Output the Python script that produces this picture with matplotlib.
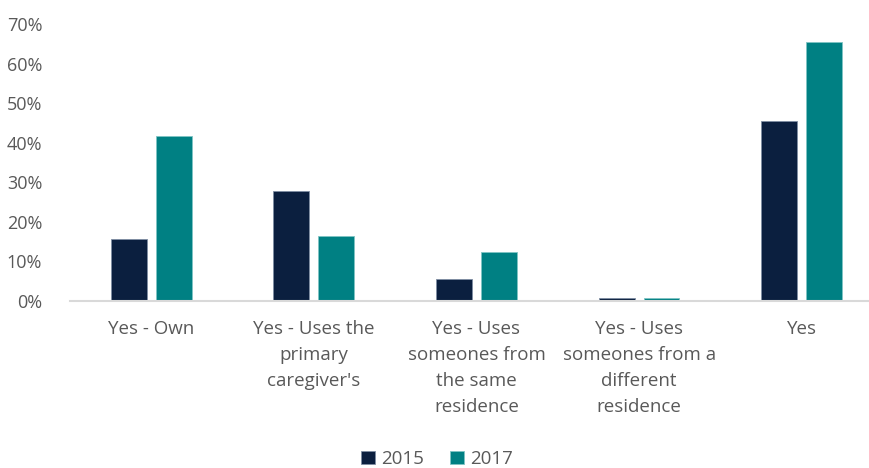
import matplotlib.pyplot as plt
import numpy as np

categories = ["Yes - Own", "Yes - Uses the\nprimary\ncaregiver's",
              "Yes - Uses\nsomeones from\nthe same\nresidence",
              "Yes - Uses\nsomeones from a\ndifferent\nresidence", "Yes"]
vals_2015 = [0.157, 0.278, 0.055, 0.007, 0.455]
vals_2017 = [0.416, 0.165, 0.123, 0.007, 0.654]

navy = "#0b1f3f"
teal = "#008083"
grey = "#595959"

plt.rcParams['font.family'] = ['Open Sans', 'DejaVu Sans']

fig = plt.figure(figsize=(8.69, 4.68), dpi=100)
ax = fig.add_axes([70 / 869, 1 - 301 / 468, 1 - 70 / 869, 277 / 468])

x = np.arange(len(categories))
w = 0.221
off = 0.138
ax.bar(x - off, vals_2015, w, color=navy, label="2015",
       edgecolor="#7f8da3", linewidth=0.6)
ax.bar(x + off, vals_2017, w, color=teal, label="2017",
       edgecolor="#7fc4c4", linewidth=0.6)

ax.set_xlim(-0.5, 4.414)
ax.set_ylim(0, 0.70)
ax.set_yticks(np.arange(0, 0.71, 0.1))
ax.set_yticklabels([f"{int(round(v * 100))}%" for v in np.arange(0, 0.71, 0.1)])
ax.set_xticks(x)
ax.set_xticklabels(categories, linespacing=1.55, fontsize=13.5)

for s in ("top", "right", "left"):
    ax.spines[s].set_visible(False)
ax.spines["bottom"].set_color("#d9d9d9")
ax.spines["bottom"].set_linewidth(1.5)
ax.tick_params(axis="both", length=0, colors=grey)
ax.tick_params(axis="y", labelsize=13, pad=20)
ax.tick_params(axis="x", pad=14)

fig.legend(loc="center", bbox_to_anchor=(437 / 869, 1 - 459 / 468), ncol=2,
           frameon=False, fontsize=13.5, labelcolor=grey, handlelength=0.75,
           handleheight=0.75, handletextpad=0.3, columnspacing=1.4)

fig.savefig("out.png", dpi=100)
